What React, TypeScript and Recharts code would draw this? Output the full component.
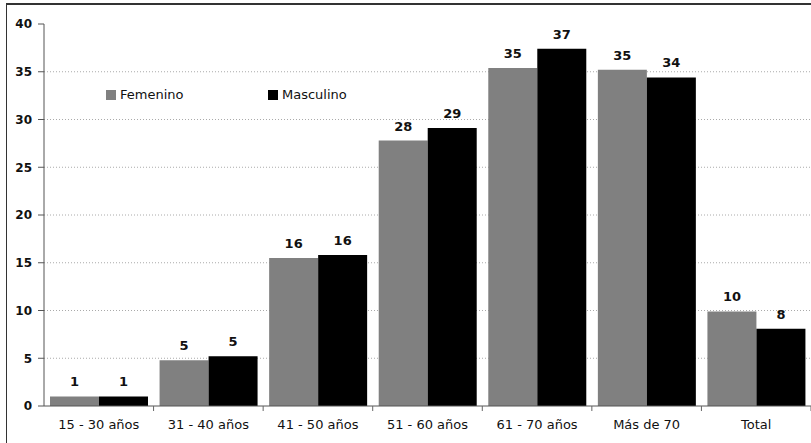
import { BarChart, Bar, XAxis, YAxis, CartesianGrid, Legend, LabelList } from 'recharts';

const categories = ['15 - 30 años', '31 - 40 años', '41 - 50 años', '51 - 60 años', '61 - 70 años', 'Más de 70', 'Total'];
const femenino = [1.0, 4.8, 15.5, 27.8, 35.4, 35.2, 9.9];
const masculino = [1.0, 5.2, 15.8, 29.1, 37.4, 34.4, 8.1];
const yTicks = [0, 5, 10, 15, 20, 25, 30, 35, 40];
const gridValues = [5, 10, 15, 20, 25, 30, 35];

const data = categories.map((name, i) => ({ name, femenino: femenino[i], masculino: masculino[i] }));

const FONT = '"DejaVu Sans", Verdana, sans-serif';

// category label plus a short tick at the right edge of each band
const CategoryTick = (props: any) => {
    const { x, y, payload, width, visibleTicksCount } = props;
    const band = width / visibleTicksCount;
    return (
        <g>
            <line x1={x + band / 2} x2={x + band / 2} y1={y - 8} y2={y - 3} stroke="#666" />
            <text x={x} y={y + 15} textAnchor="middle" fontSize={13} fontFamily={FONT} fill="#111">
                {payload.value}
            </text>
        </g>
    );
};

const LegendBox = () => (
    <div style={{ display: 'flex', fontFamily: FONT, fontSize: 13, color: '#111' }}>
        <span style={{ display: 'flex', alignItems: 'center', width: 162 }}>
            <span style={{ width: 10, height: 10, background: '#808080', marginRight: 4 }} />
            Femenino
        </span>
        <span style={{ display: 'flex', alignItems: 'center' }}>
            <span style={{ width: 10, height: 10, background: '#000', marginRight: 4 }} />
            Masculino
        </span>
    </div>
);

const labelStyle = { fontSize: 13, fontFamily: FONT, fontWeight: 'bold', fill: '#111' };

export default function App() {
    return (
        <div style={{ position: 'absolute', left: 0, top: 0, width: 811, height: 443, background: '#fff' }}>
            <div
                style={{
                    position: 'absolute',
                    left: 6,
                    top: 3,
                    right: 0,
                    bottom: 0,
                    borderTop: '2px solid #333',
                    borderLeft: '1px solid #333',
                }}
            />
            <BarChart
                width={811}
                height={443}
                data={data}
                barGap={0}
                barCategoryGap={6}
                margin={{ top: 24, right: 0, left: 0, bottom: 0 }}
            >
                <CartesianGrid
                    vertical={false}
                    horizontalValues={gridValues}
                    stroke="#aaa"
                    strokeDasharray="1 2"
                />
                <XAxis
                    dataKey="name"
                    height={37}
                    axisLine={{ stroke: '#555' }}
                    tickLine={false}
                    interval={0}
                    tick={<CategoryTick />}
                />
                <YAxis
                    width={44}
                    domain={[0, 40]}
                    ticks={yTicks}
                    interval={0}
                    axisLine={{ stroke: '#555' }}
                    tickLine={{ stroke: '#555' }}
                    tickSize={6}
                    tickMargin={6}
                    tick={{ fontSize: 12, fontFamily: FONT, fontWeight: 'bold', fill: '#111' }}
                />
                <Legend
                    verticalAlign="middle"
                    content={<LegendBox />}
                    wrapperStyle={{ position: 'absolute', left: 106, top: 87, width: 300 }}
                />
                <Bar dataKey="femenino" name="Femenino" fill="#808080" isAnimationActive={false}>
                    <LabelList
                        dataKey="femenino"
                        position="top"
                        offset={10}
                        formatter={(v: any) => Math.round(Number(v))}
                        style={labelStyle}
                    />
                </Bar>
                <Bar dataKey="masculino" name="Masculino" fill="#000" isAnimationActive={false}>
                    <LabelList
                        dataKey="masculino"
                        position="top"
                        offset={10}
                        formatter={(v: any) => Math.round(Number(v))}
                        style={labelStyle}
                    />
                </Bar>
            </BarChart>
        </div>
    );
}
